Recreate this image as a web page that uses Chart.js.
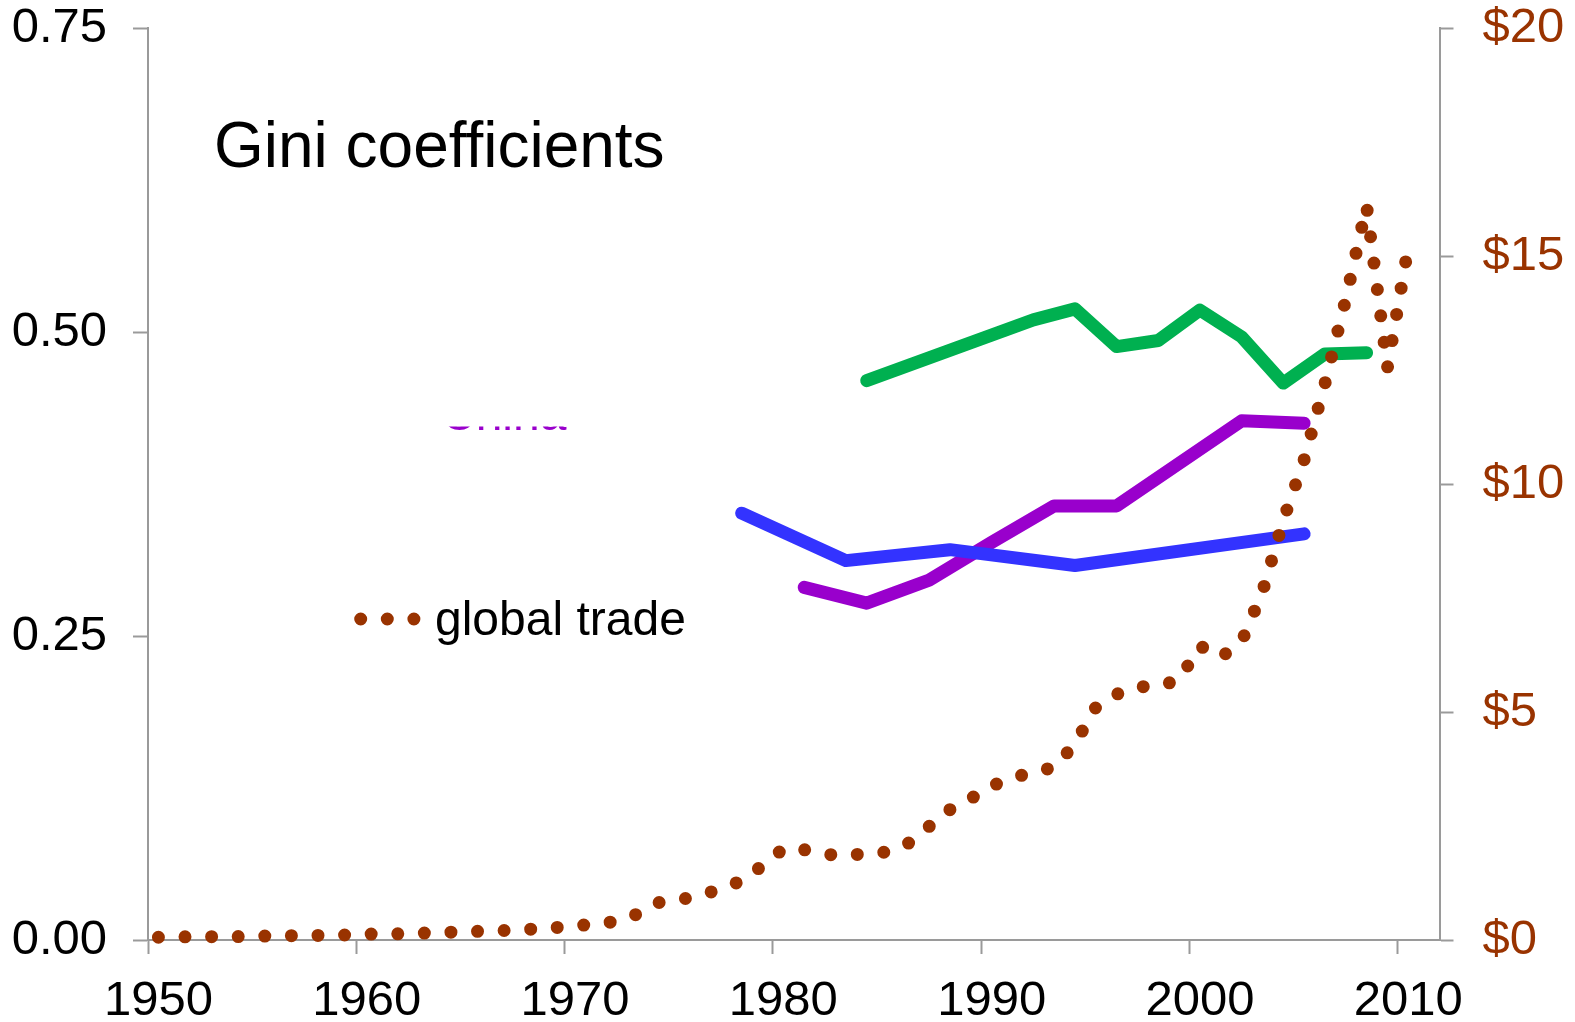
<!DOCTYPE html>
<html>
<head>
<meta charset="utf-8">
<script src="https://cdn.jsdelivr.net/npm/chart.js@4.4.1/dist/chart.umd.min.js"></script>
<style>
  html, body { margin: 0; padding: 0; background: #ffffff; }
  #wrap { width: 1575px; height: 1022px; position: relative; }
  canvas { display: block; }
</style>
</head>
<body>
<div id="wrap"><canvas id="c" width="1575" height="1022"></canvas></div>
<script>
// ---- data ----
const years = [];
for (let y = 1950; y <= 2011; y++) years.push(y);

// global trade, trillions of US$ (1950..2010)
const tradeValues = [
  0.06, 0.07, 0.07, 0.075, 0.075, 0.085, 0.09, 0.10, 0.10, 0.11,
  0.13, 0.13, 0.14, 0.155, 0.17, 0.185, 0.20, 0.215, 0.24, 0.27,
  0.31, 0.35, 0.41, 0.57, 0.82, 0.88, 0.98, 1.12, 1.30, 1.63,
  2.00, 1.98, 1.88, 1.85, 1.90, 1.93, 2.12, 2.49, 2.86, 3.10,
  3.38, 3.55, 3.69, 3.78, 4.30, 5.10, 5.39, 5.55, 5.57, 5.70,
  6.45, 6.20, 6.54, 7.63, 9.20, 10.53, 12.20, 14.05, 16.10, 12.55,
  15.20
];

// Gini coefficients (year -> value)
const greenYears  = [1984, 1992, 1994, 1996, 1998, 2000, 2002, 2004, 2006, 2008];
const greenGini   = [0.460, 0.510, 0.519, 0.488, 0.493, 0.518, 0.496, 0.458, 0.482, 0.483];
const chinaYears  = [1981, 1984, 1987, 1990, 1993, 1996, 2002, 2005];
const chinaGini   = [0.290, 0.277, 0.296, 0.327, 0.357, 0.357, 0.427, 0.425];
const blueYears   = [1978, 1983, 1988, 1994, 2005];
const blueGini    = [0.351, 0.312, 0.321, 0.308, 0.334];

const leftTicks = [0, 0.25, 0.5, 0.75];
const rightTicks = [0, 5, 10, 15, 20];

function toSeries(ys, vals) {
  return years.map(y => { const i = ys.indexOf(y); return i >= 0 ? vals[i] : null; });
}

const FONT = '"Liberation Sans", Arial, Helvetica, sans-serif';
const BROWN = '#993300';
const AXIS = '#9a9a9a';

function zeroPad(s) { s.paddingTop = 0; s.paddingBottom = 0; s.paddingLeft = 0; s.paddingRight = 0; }

const overlay = {
  id: 'overlay',
  afterDraw(chart) {
    const ctx = chart.ctx;
    ctx.save();
    // title
    ctx.fillStyle = '#000';
    ctx.font = '64px ' + FONT;
    ctx.textBaseline = 'alphabetic';
    ctx.textAlign = 'left';
    ctx.fillText('Gini coefficients', 214, 167);
    // legend
    ctx.strokeStyle = BROWN;
    ctx.lineWidth = 13;
    ctx.lineCap = 'round';
    ctx.setLineDash([0, 26.6]);
    ctx.beginPath();
    ctx.moveTo(360.7, 619);
    ctx.lineTo(415, 619);
    ctx.stroke();
    ctx.setLineDash([]);
    ctx.fillStyle = '#000';
    ctx.font = '48px ' + FONT;
    ctx.fillText('global trade', 435, 635);
    // partially hidden series label
    ctx.save();
    ctx.beginPath();
    ctx.rect(380, 426.5, 250, 12);
    ctx.clip();
    ctx.fillStyle = '#9900CC';
    ctx.font = '48px ' + FONT;
    ctx.fillText('China', 441, 429.5);
    ctx.restore();
    ctx.restore();
  }
};

new Chart(document.getElementById('c'), {
  type: 'line',
  data: {
    labels: years,
    datasets: [
      {
        label: 'global trade', data: tradeValues, yAxisID: 'y2', order: 0,
        borderColor: BROWN, borderWidth: 13, borderDash: [0, 26.6], borderCapStyle: 'round',
        borderJoinStyle: 'round', pointRadius: 0, tension: 0, fill: false, clip: false
      },
      {
        label: 'blue', data: toSeries(blueYears, blueGini), yAxisID: 'y', order: 1, spanGaps: true,
        borderColor: '#3333FF', borderWidth: 13, borderCapStyle: 'round', borderJoinStyle: 'round',
        pointRadius: 0, tension: 0, fill: false, clip: false
      },
      {
        label: 'China', data: toSeries(chinaYears, chinaGini), yAxisID: 'y', order: 2, spanGaps: true,
        borderColor: '#9900CC', borderWidth: 13, borderCapStyle: 'round', borderJoinStyle: 'round',
        pointRadius: 0, tension: 0, fill: false, clip: false
      },
      {
        label: 'green', data: toSeries(greenYears, greenGini), yAxisID: 'y', order: 3, spanGaps: true,
        borderColor: '#00B050', borderWidth: 13, borderCapStyle: 'round', borderJoinStyle: 'round',
        pointRadius: 0, tension: 0, fill: false, clip: false
      }
    ]
  },
  options: {
    responsive: false,
    animation: false,
    events: [],
    layout: { padding: { top: 28, left: 0, right: 0, bottom: 0 } },
    plugins: { legend: { display: false }, tooltip: { enabled: false }, title: { display: false } },
    scales: {
      x: {
        type: 'category',
        offset: true,
        grid: {
          offset: true, drawOnChartArea: false, drawTicks: true, tickLength: 14, tickWidth: 2,
          tickColor: ctx => (ctx.index % 10 === 0 ? AXIS : 'rgba(0,0,0,0)')
        },
        border: { display: true, color: AXIS, width: 2 },
        ticks: {
          autoSkip: false, maxRotation: 0, minRotation: 0, padding: 18,
          color: '#000', font: { family: FONT, size: 49 },
          callback: function (v) { const l = this.getLabelForValue(v); return (l % 10 === 0) ? String(l) : ''; }
        },
        afterFit: s => { s.height = 82; zeroPad(s); }
      },
      y: {
        position: 'left', min: 0, max: 0.75,
        afterBuildTicks: s => { s.ticks = leftTicks.map(v => ({ value: v })); },
        grid: { drawOnChartArea: false, drawTicks: true, tickLength: 15, tickWidth: 2, tickColor: AXIS },
        border: { display: true, color: AXIS, width: 2 },
        ticks: {
          padding: 26, color: '#000', font: { family: FONT, size: 49 },
          callback: v => Number(v).toFixed(2)
        },
        afterFit: s => { s.width = 148; zeroPad(s); }
      },
      y2: {
        position: 'right', min: 0, max: 20,
        afterBuildTicks: s => { s.ticks = rightTicks.map(v => ({ value: v })); },
        grid: { drawOnChartArea: false, drawTicks: true, tickLength: 14, tickWidth: 2, tickColor: AXIS },
        border: { display: true, color: AXIS, width: 2 },
        ticks: {
          padding: 29, color: BROWN, font: { family: FONT, size: 49 },
          callback: v => '$' + v
        },
        afterFit: s => { s.width = 135.5; zeroPad(s); }
      }
    }
  },
  plugins: [overlay]
});
</script>
</body>
</html>
